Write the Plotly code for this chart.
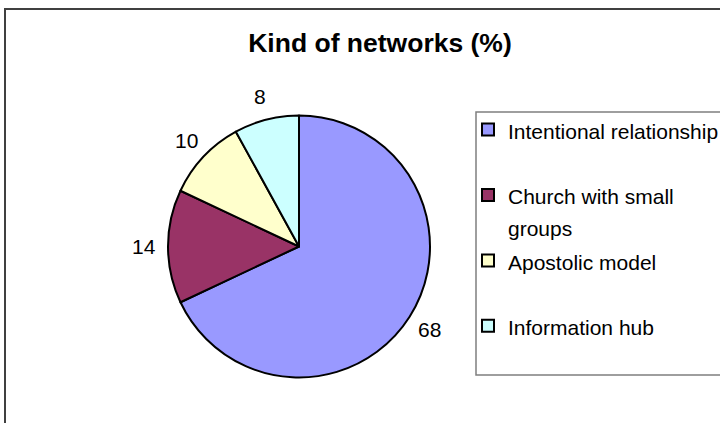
import math
import plotly.graph_objects as go

# ---- data ----
categories = ["Intentional relationship", "Church with small<br>groups", "Apostolic model", "Information hub"]
values = [68, 14, 10, 8]
colors = ["#9999FF", "#993366", "#FFFFCC", "#CCFFFF"]
title_text = "Kind of networks (%)"

# ---- layout constants ----
W, H = 720, 423
FONT = "Liberation Sans, Arial, sans-serif"
cx, cy, r = 299, 246.5, 131      # pie centre / radius in pixels
label_r = r + 24                  # distance of value labels from centre

legend_labels = []
for c in categories:
    txt = f'<span style="font-size:21px">{c}</span>'
    if "<br>" not in c:
        txt += "<br>&nbsp;"
    legend_labels.append(txt)

fig = go.Figure(go.Pie(
    labels=legend_labels,
    values=values,
    sort=False,
    direction="clockwise",
    rotation=0,
    marker=dict(colors=colors, line=dict(color="black", width=2)),
    textinfo="none",
    domain=dict(x=[(cx - r) / W, (cx + r) / W], y=[(H - cy - r) / H, (H - cy + r) / H]),
    hoverinfo="label+value",
))

# value labels placed outside each slice at its mid-angle (clockwise from 12 o'clock)
total = sum(values)
cum = 0
annotations = []
for v in values:
    theta = math.radians((cum + v / 2) / total * 360)
    cum += v
    px = cx + label_r * math.sin(theta)
    py = cy - label_r * math.cos(theta)
    annotations.append(dict(x=px / W, y=1 - py / H, xref="paper", yref="paper",
                            text=str(v), showarrow=False, xanchor="center", yanchor="middle",
                            font=dict(size=21, color="black", family=FONT)))

fig.update_layout(
    width=W, height=H,
    margin=dict(l=0, r=0, t=0, b=0, autoexpand=False),
    paper_bgcolor="white",
    plot_bgcolor="white",
    font=dict(family=FONT, color="black"),
    title=dict(text=title_text, x=380 / W, xanchor="center", y=1 - 43 / H, yanchor="middle",
               yref="container", xref="container",
               font=dict(size=26.5, color="black", family=FONT, weight="bold")),
    legend=dict(x=468 / W, y=1 - 107.5 / H, xanchor="left", yanchor="top",
                bgcolor="rgba(0,0,0,0)", borderwidth=0,
                font=dict(size=24, color="black", family=FONT),
                valign="top", tracegroupgap=0),
    annotations=annotations,
    shapes=[
        # outer chart border
        dict(type="rect", xref="paper", yref="paper",
             x0=5 / W, x1=1.05, y0=-0.05, y1=1 - 9 / H,
             line=dict(color="#404040", width=2), fillcolor="rgba(0,0,0,0)", layer="below"),
        # legend frame
        dict(type="rect", xref="paper", yref="paper",
             x0=476 / W, x1=1.05, y0=1 - 375 / H, y1=1 - 112 / H,
             line=dict(color="#7f7f7f", width=1.5), fillcolor="white", layer="below"),
    ],
)

fig.write_html("out.html")
